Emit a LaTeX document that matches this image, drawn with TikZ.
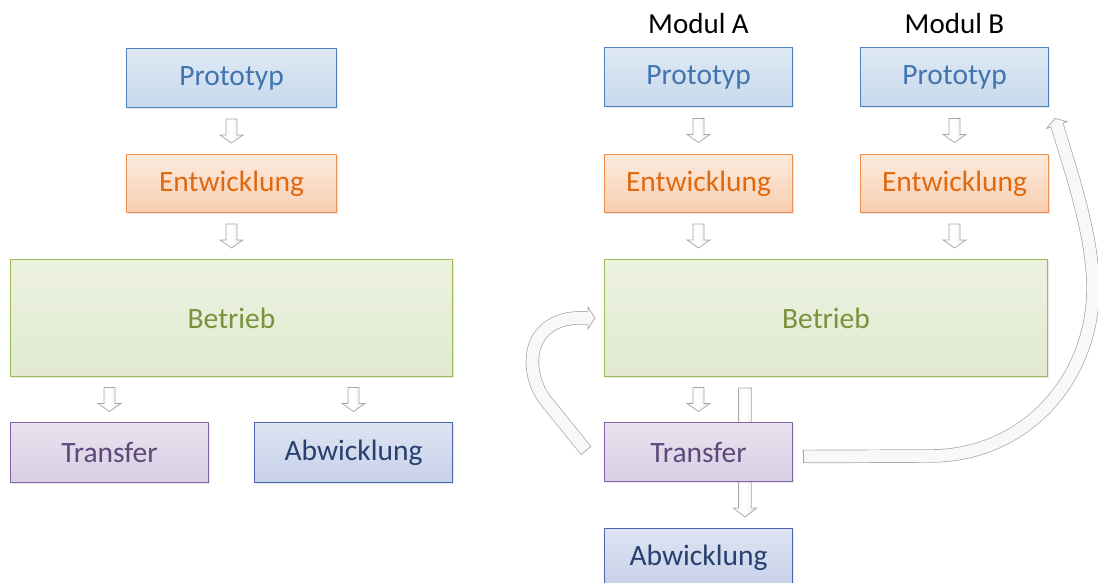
\documentclass[tikz,border=0pt]{standalone}
\usepackage{fontspec}
\setmainfont{Carlito}
\usetikzlibrary{calc,shadows,backgrounds}
\definecolor{protoBorder}{HTML}{4F81BD}
\definecolor{protoTop}{HTML}{DFE9F4}
\definecolor{protoBot}{HTML}{C6D9EC}
\definecolor{protoText}{HTML}{4274B0}
\definecolor{entBorder}{HTML}{EE8E48}
\definecolor{entTop}{HTML}{FCEBDF}
\definecolor{entBot}{HTML}{F8CEB0}
\definecolor{entText}{HTML}{E0690F}
\definecolor{betBorder}{HTML}{9BBB59}
\definecolor{betTop}{HTML}{ECF2E0}
\definecolor{betBot}{HTML}{E2E9D0}
\definecolor{betText}{HTML}{77933C}
\definecolor{traBorder}{HTML}{8064A2}
\definecolor{traTop}{HTML}{E8E3EF}
\definecolor{traBot}{HTML}{D8CFE4}
\definecolor{traText}{HTML}{5F497A}
\definecolor{abwBorder}{HTML}{4A66AC}
\definecolor{abwTop}{HTML}{DEE4F2}
\definecolor{abwBot}{HTML}{C6D0E9}
\definecolor{abwText}{HTML}{27406F}
\definecolor{arrowB}{HTML}{A6A6A6}
\definecolor{arrowF}{HTML}{F8F8F8}
\tikzset{
  box/.style={draw, line width=1pt, inner sep=0pt, anchor=north west,
    font=\fontsize{29.5}{34}\selectfont,
    drop shadow={shadow xshift=1pt, shadow yshift=-1.5pt, opacity=0.18}},
  proto/.style={box, draw=protoBorder, top color=protoTop, bottom color=protoBot, text=protoText},
  ent/.style={box, draw=entBorder, top color=entTop, bottom color=entBot, text=entText},
  bet/.style={box, draw=betBorder, top color=betTop, bottom color=betBot, text=betText},
  tra/.style={box, draw=traBorder, top color=traTop, bottom color=traBot, text=traText},
  abw/.style={box, draw=abwBorder, top color=abwTop, bottom color=abwBot, text=abwText},
  modlabel/.style={anchor=base, font=\fontsize{29}{34}\selectfont, text=black, inner sep=0pt},
  arrowline/.style={draw=arrowB, line width=0.7pt, left color=arrowF, right color=gray!20, middle color=white, line join=miter},
  bigarrow/.style={draw=arrowB, line width=0.7pt, double=arrowF, double distance=12pt},
  capline/.style={draw=arrowB, line width=0.7pt},
  smallarr/.pic={\path[arrowline] (-5.5,-12) -- (5.5,-12) -- (5.5,4) -- (11.5,4) -- (0,12) -- (-11.5,4) -- (-5.5,4) -- cycle;},
  curvehead/.pic={\filldraw[draw=arrowB, fill=arrowF, line width=0.7pt, line join=miter] (0,-6.6) -- (0,-10.8) -- (7,0) -- (0,10.8) -- (0,6.6);}
}
\pgfdeclarelayer{background}
\begin{document}
\begin{tikzpicture}[x=1pt,y=-1pt]
\useasboundingbox (0,0) rectangle (1098,583);
\clip (0,0) rectangle (1098,583);

% left flow
\node[proto, minimum width=210, minimum height=59] (p1) at (126,48) {Prototyp};
\node[ent, minimum width=210, minimum height=58] (e1) at (126,154) {Entwicklung};
\node[bet, minimum width=442, minimum height=117] (b1) at (10,259) {Betrieb};
\node[tra, minimum width=198, minimum height=60] (t1) at (10,422) {Transfer};
\node[abw, minimum width=198, minimum height=60] (a1) at (254,422) {Abwicklung};

\pic at ($(p1.south)!.5!(e1.north)$) {smallarr};
\pic at ($(e1.south)!.5!(b1.north)$) {smallarr};
\pic at ($(b1.south -| t1.north)!.5!(t1.north)$) {smallarr};
\pic at ($(b1.south -| a1.north)!.5!(a1.north)$) {smallarr};

% right flow
\node[proto, minimum width=188, minimum height=59] (pA) at (604,47) {Prototyp};
\node[proto, minimum width=188, minimum height=59] (pB) at (860,47) {Prototyp};
\node[modlabel] (mA) at ($(pA.north)+(0,-13.4)$) {Modul A};
\node[modlabel] (mB) at ($(pB.north)+(0,-13.4)$) {Modul B};
\node[ent, minimum width=188, minimum height=58] (eA) at (604,154) {Entwicklung};
\node[ent, minimum width=188, minimum height=58] (eB) at (860,154) {Entwicklung};
\node[bet, minimum width=443, minimum height=117] (b2) at (604,259) {Betrieb};
\node[tra, minimum width=188, minimum height=59] (t2) at (604,422) {Transfer};
\node[abw, minimum width=188, minimum height=59] (a2) at (604,528) {Abwicklung};

\pic at ($(pA.south)!.5!(eA.north)$) {smallarr};
\pic at ($(pB.south)!.5!(eB.north)$) {smallarr};
\pic at ($(eA.south)!.5!(eA.south |- b2.north)$) {smallarr};
\pic at ($(eB.south)!.5!(eB.south |- b2.north)$) {smallarr};
\pic at ($(b2.south -| t2.north)!.5!(t2.north)$) {smallarr};

% long arrow behind Transfer
\coordinate (la1) at ($(b2.south -| t2.east)+(-48,11)$);
\coordinate (la2) at ($(a2.north -| t2.east)+(-48,-11)$);
\begin{scope}[on background layer]
\path[arrowline] ($(la1)+(-6.6,0)$) -- ($(la1)+(6.6,0)$) -- ($(la2)+(6.6,-9)$) -- ($(la2)+(11.7,-9)$) -- (la2) -- ($(la2)+(-11.7,-9)$) -- ($(la2)+(-6.6,-9)$) -- cycle;
\end{scope}

% curved arrow back to Betrieb
\coordinate (ls) at ($(t2.west)+(-18,-1.5)$);
\coordinate (lh) at ($(b2.west)+(-16,0)$);
\draw[bigarrow] (ls) -- (546,401) .. controls (528,378) and (528,345) .. (545,330) .. controls (556,320) and (570,317) .. (lh);
\draw[capline] ($(ls)+(5.1,-4.2)$) -- ($(ls)+(-5.1,4.2)$);
\pic at (lh) {curvehead};

% big arrow to Modul B
\coordinate (bs) at ($(t2.east)+(10,4.5)$);
\coordinate (he) at ($(pB.south east)+(8,18)$);
\draw[bigarrow] (bs) -- (930,456) .. controls (1025,456) and (1092,380) .. (1093,290) .. controls (1094,235) and (1067,160) .. (he);
\draw[capline] ($(bs)+(0,-6.6)$) -- ($(bs)+(0,6.6)$);
\pic[rotate=108] at (he) {curvehead};
\end{tikzpicture}
\end{document}
